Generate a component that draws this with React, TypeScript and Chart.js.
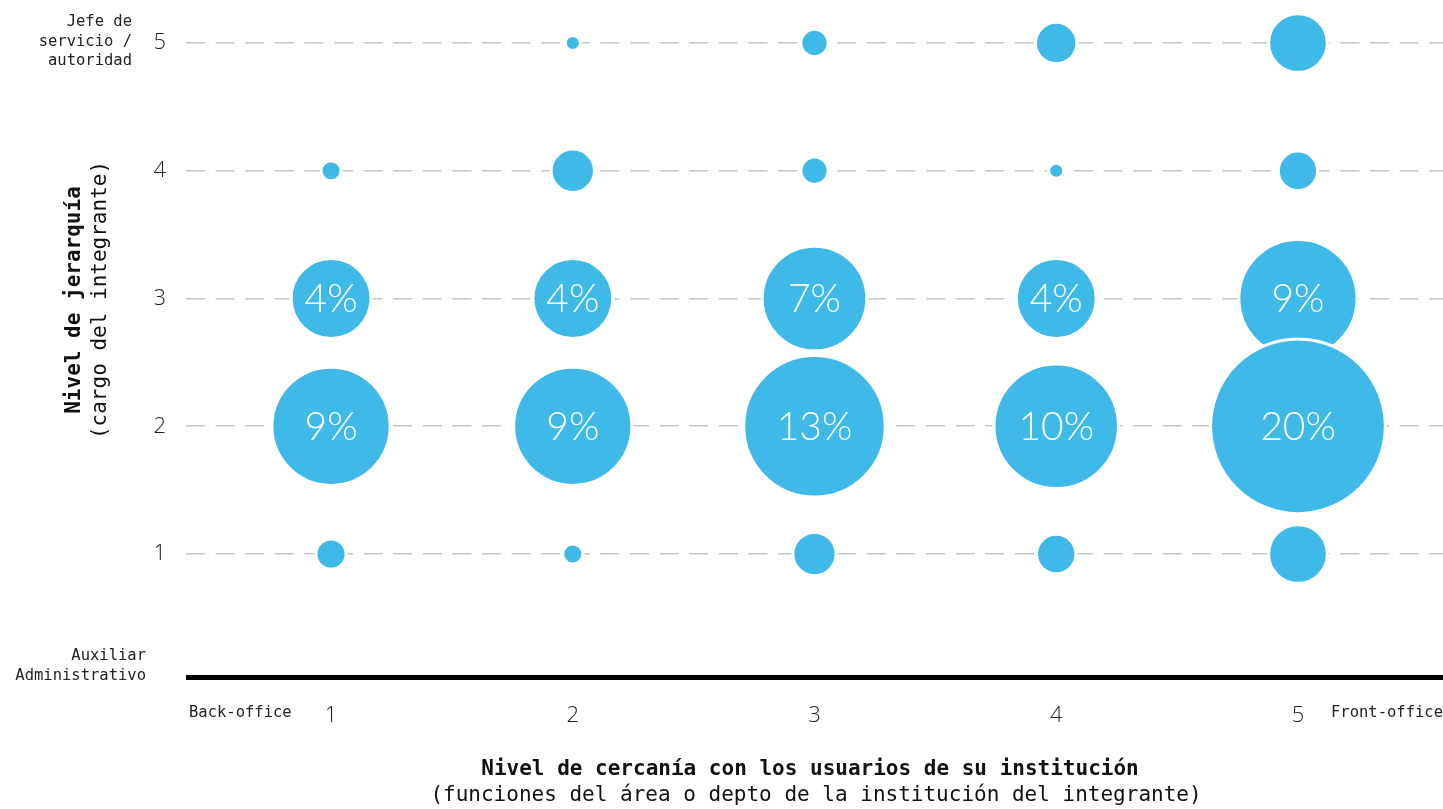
import React, { useEffect, useRef } from "react";
import { Chart, registerables } from "chart.js";

Chart.register(...registerables);

// Categories
const xLevels = [1, 2, 3, 4, 5]; // Nivel de cercanía
const yLevels = [5, 4, 3, 2, 1]; // Nivel de jerarquía (drawn top to bottom)
const xTicks = [1, 2, 3, 4, 5];
const yTicks = [1, 2, 3, 4, 5];

// Percentages per hierarchy row (columns = cercanía 1..5)
const row5 = [0, 0.1, 0.4, 1.0, 2.1];
const row4 = [0.2, 1.1, 0.4, 0.1, 0.9];
const row3 = [4, 4, 7, 4, 9];
const row2 = [9, 9, 13, 10, 20];
const row1 = [0.5, 0.2, 1.1, 0.9, 2.1];
const rows = [row5, row4, row3, row2, row1];

const labelThreshold = 4;

const yTitleBold = "Nivel de jerarquía";
const yTitleSub = "(cargo del integrante)";
const xTitleBold = "Nivel de cercanía con los usuarios de su institución";
const xTitleSub = "(funciones del área o depto de la institución del integrante)";
const topLabel = ["Jefe de", "servicio /", "autoridad"];
const bottomLabel = ["Auxiliar", "Administrativo"];
const leftXLabel = "Back-office";
const rightXLabel = "Front-office";

const BLUE = "#3fb9e8";
const MONO = "'DejaVu Sans Mono', monospace";
const BORDER = 3;
const W = 1435;
const H = 801;
const radiusFor = (v: number) => (v > 0 ? 19.2 * Math.sqrt(v) + BORDER / 2 : 0);

export default function App() {
  const ref = useRef<HTMLCanvasElement | null>(null);

  useEffect(() => {
    if (!ref.current) return;
    const points: { x: number; y: number; r: number; v: number }[] = [];
    yLevels.forEach((yv, ri) => {
      xLevels.forEach((xv, ci) => {
        const v = rows[ri][ci];
        if (v > 0) points.push({ x: xv, y: yv, r: radiusFor(v), v });
      });
    });

    const overlay = {
      id: "overlay",
      afterDatasetsDraw(chart: any) {
        const ctx = chart.ctx;
        const meta = chart.getDatasetMeta(0);
        ctx.save();
        ctx.fillStyle = "#ffffff";
        ctx.textAlign = "center";
        ctx.textBaseline = "middle";
        ctx.font = "300 39px Lato, 'Open Sans', sans-serif";
        meta.data.forEach((el: any, i: number) => {
          const p = points[i];
          if (p.v >= labelThreshold) ctx.fillText(`${p.v}%`, el.x, el.y + 1);
        });
        ctx.restore();
      },
      afterDraw(chart: any) {
        const ctx = chart.ctx;
        const area = chart.chartArea;
        ctx.save();
        // black base axis line
        ctx.strokeStyle = "#000";
        ctx.lineWidth = 5;
        ctx.beginPath();
        ctx.moveTo(area.left, area.bottom - 2.5);
        ctx.lineTo(area.right, area.bottom - 2.5);
        ctx.stroke();

        ctx.fillStyle = "#222";
        ctx.textBaseline = "middle";
        ctx.font = `15.5px ${MONO}`;
        ctx.textAlign = "right";
        topLabel.forEach((t, i) => ctx.fillText(t, 124, 14 + i * 19.5));
        bottomLabel.forEach((t, i) => ctx.fillText(t, 138, 648 + i * 19.5));
        ctx.textAlign = "left";
        ctx.fillText(leftXLabel, area.left + 3, 705);
        ctx.textAlign = "right";
        ctx.fillText(rightXLabel, area.right, 705);

        ctx.fillStyle = "#111";
        ctx.textAlign = "center";
        ctx.font = `bold 21px ${MONO}`;
        ctx.fillText(xTitleBold, 802, 762);
        ctx.font = `21px ${MONO}`;
        ctx.fillText(xTitleSub, 808, 788);

        ctx.translate(67, 292);
        ctx.rotate(-Math.PI / 2);
        ctx.font = `bold 21px ${MONO}`;
        ctx.fillText(yTitleBold, 0, 0);
        ctx.font = `21px ${MONO}`;
        ctx.fillText(yTitleSub, 0, 26);
        ctx.restore();
      },
    };

    const chart = new Chart(ref.current, {
      type: "bubble",
      data: {
        datasets: [
          {
            data: points as any,
            backgroundColor: BLUE,
            borderColor: "#ffffff",
            borderWidth: BORDER,
            hoverBorderWidth: BORDER,
            clip: false as any,
          },
        ],
      },
      options: {
        animation: false,
        responsive: false,
        layout: { padding: 0, autoPadding: false },
        plugins: { legend: { display: false }, tooltip: { enabled: false } },
        scales: {
          x: {
            type: "linear",
            min: 0.4,
            max: 5.6,
            afterFit: (s: any) => {
              s.height = H - 672;
              s.paddingLeft = 0;
              s.paddingRight = 0;
            },
            afterBuildTicks: (s: any) => {
              s.ticks = xTicks.map((v) => ({ value: v }));
            },
            grid: { display: false, drawTicks: false },
            border: { display: false },
            ticks: {
              padding: 23,
              color: "#222",
              font: { family: "'Open Sans', sans-serif", size: 22, weight: "300" as any },
            },
          },
          y: {
            type: "linear",
            min: 0.014,
            max: 5.274,
            afterFit: (s: any) => {
              s.width = 178;
              s.paddingTop = 0;
              s.paddingBottom = 0;
            },
            afterBuildTicks: (s: any) => {
              s.ticks = yTicks.map((v) => ({ value: v }));
            },
            grid: {
              color: "#c6c6c6",
              lineWidth: 1.6,
              drawTicks: false,
            },
            border: { display: false, dash: [19, 10.6] },
            ticks: {
              padding: 20,
              color: "#222",
              font: { family: "'Open Sans', sans-serif", size: 22, weight: "300" as any },
            },
          },
        },
      },
      plugins: [overlay],
    });
    return () => chart.destroy();
  }, []);

  return (
    <div style={{ position: "fixed", left: 8, top: 8, width: W, height: H }}>
      <canvas ref={ref} width={W} height={H} style={{ display: "block", width: W, height: H }} />
    </div>
  );
}
